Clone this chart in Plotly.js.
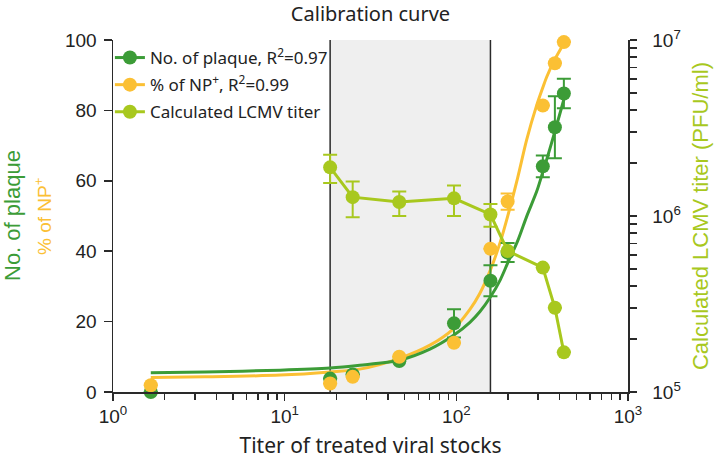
<!DOCTYPE html>
<html>
<head>
<meta charset="utf-8">
<script src="https://cdn.plot.ly/plotly-3.0.1.min.js"></script>
<style>html,body{margin:0;padding:0;background:#fff;}#chart{width:714px;height:465px;}</style>
</head>
<body>
<div id="chart"></div>
<script>
// ---- data ----
const titerX = [1.66, 18.4, 24.9, 46.5, 96.9, 158, 199, 319, 375, 423];
const plaque = [0, 3.8, 5.0, 8.8, 19.5, 31.6, 39.6, 64.1, 75.2, 84.8];
const plaqueErr = [0, 0, 0, 0, 4.0, 4.4, 2.7, 3.1, 8.8, 4.2];
const npPct = [1.9, 2.4, 4.3, 10.0, 14.0, 40.7, 54.1, 81.4, 93.4, 99.4];
const npErr = [0, 0, 0, 0, 0, 0, 2.3, 0, 0, 0];

const lcmvX = [18.4, 24.9, 46.5, 96.9, 158, 199, 319, 375, 423];
const lcmvTiter = [1.89e6, 1.28e6, 1.20e6, 1.26e6, 1.02e6, 6.33e5, 5.09e5, 3.01e5, 1.68e5];
const lcmvErrPlus = [3.4e5, 2.9e5, 1.8e5, 2.3e5, 1.5e5, 0, 0, 0, 0];
const lcmvErrMinus = [3.5e5, 2.95e5, 2.0e5, 2.6e5, 1.5e5, 0, 0, 0, 0];

const fitX = [1.66, 3.43, 9.4, 18.4, 27.4, 46.3, 70.2, 96.9, 120, 137, 158, 180, 199, 228, 257, 294, 319, 336, 375, 423];
const plaqueFit = [5.5, 5.7, 6.2, 6.8, 7.6, 9.0, 12.2, 16.2, 19.8, 22.8, 27.0, 31.8, 36.6, 43.0, 49.9, 57.0, 62.5, 66.0, 74.0, 83.1];
const npFit = [4.1, 4.3, 4.8, 5.7, 6.5, 9.5, 13.3, 18.1, 23.5, 28.0, 34.7, 42.5, 49.9, 61.0, 71.7, 81.5, 86.5, 89.5, 94.5, 99.0];

const shadeRange = [18.4, 158];

const xTickVals = [1, 10, 100, 1000];
const xTickText = ['10<sup>0</sup>', '10<sup>1</sup>', '10<sup>2</sup>', '10<sup>3</sup>'];
const xMinorVals = [2,3,4,5,6,7,8,9,20,30,40,50,60,70,80,90,200,300,400,500,600,700,800,900];
const yTickVals = [0, 20, 40, 60, 80, 100];
const y2TickVals = [1e5, 1e6, 1e7];
const y2TickText = ['10<sup>5</sup>', '10<sup>6</sup>', '10<sup>7</sup>'];
const y2MinorVals = [2e5,3e5,4e5,5e5,6e5,7e5,8e5,9e5,2e6,3e6,4e6,5e6,6e6,7e6,8e6,9e6];

const legendNames = ['No. of plaque, R<sup>2</sup>=0.97', '% of NP<sup>+</sup>, R<sup>2</sup>=0.99', 'Calculated LCMV titer'];

// ---- styling ----
const GREEN = '#3c9c37';
const ORANGE = '#fbc034';
const LIME = '#a8c81e';
const AX = '#2a2a2a';
const ARIAL = 'Liberation Sans, Arial, sans-serif';
const tickFont = {family: ARIAL, size: 19, color: '#222'};
const textFont = 'Noto Sans, sans-serif';

const traces = [
  // legend-only entries
  {x: [null], y: [null], type: 'scatter', mode: 'lines+markers', name: legendNames[0], legendgroup: 'a',
   line: {color: GREEN, width: 3}, marker: {color: GREEN, size: 14}},
  {x: [null], y: [null], type: 'scatter', mode: 'lines+markers', name: legendNames[1], legendgroup: 'b',
   line: {color: ORANGE, width: 3}, marker: {color: ORANGE, size: 14}},
  // fit curves
  {x: fitX, y: npFit, type: 'scatter', mode: 'lines', showlegend: false, cliponaxis: false,
   line: {color: ORANGE, width: 3, shape: 'spline', smoothing: 0.8}},
  {x: fitX, y: plaqueFit, type: 'scatter', mode: 'lines', showlegend: false, cliponaxis: false,
   line: {color: GREEN, width: 3, shape: 'spline', smoothing: 0.8}},
  // data points
  {x: titerX, y: plaque, type: 'scatter', mode: 'markers', showlegend: false, cliponaxis: false,
   marker: {color: GREEN, size: 14},
   error_y: {type: 'data', array: plaqueErr, visible: true, color: GREEN, thickness: 2, width: 7}},
  {x: titerX, y: npPct, type: 'scatter', mode: 'markers', showlegend: false, cliponaxis: false,
   marker: {color: ORANGE, size: 14},
   error_y: {type: 'data', array: npErr, visible: true, color: ORANGE, thickness: 2, width: 7}},
  {x: lcmvX, y: lcmvTiter, yaxis: 'y2', type: 'scatter', mode: 'lines+markers', name: legendNames[2], legendgroup: 'c',
   cliponaxis: false,
   line: {color: LIME, width: 3}, marker: {color: LIME, size: 14},
   error_y: {type: 'data', array: lcmvErrPlus, arrayminus: lcmvErrMinus, visible: true, color: LIME, thickness: 2, width: 7}}
];

const layout = {
  width: 714, height: 465,
  margin: {l: 113, r: 86, t: 40, b: 73},
  paper_bgcolor: '#fff', plot_bgcolor: '#fff',
  showlegend: true,
  title: {text: 'Calibration curve', font: {family: textFont, size: 20, color: '#222'},
          x: 0.5, xref: 'paper', xanchor: 'center', y: 0.971, yref: 'container', yanchor: 'middle'},
  xaxis: {
    type: 'log', range: [0, 3], showgrid: false, zeroline: false,
    showline: true, linecolor: AX, linewidth: 1.5,
    ticks: 'outside', ticklen: 7, tickwidth: 1.5, tickcolor: AX,
    tickmode: 'array', tickvals: xTickVals, ticktext: xTickText, tickfont: tickFont,
    minor: {tickmode: 'array', tickvals: xMinorVals, ticks: 'outside', ticklen: 6, tickwidth: 1.5, tickcolor: AX, showgrid: false},
    title: {text: 'Titer of treated viral stocks', font: {family: textFont, size: 21, color: '#222'}, standoff: 12}
  },
  yaxis: {
    range: [0, 100], showgrid: false, zeroline: false,
    showline: true, linecolor: AX, linewidth: 1.5,
    ticks: 'outside', ticklen: 8, tickwidth: 1.5, tickcolor: AX, ticklabelstandoff: 3,
    tickmode: 'array', tickvals: yTickVals, tickfont: tickFont
  },
  yaxis2: {
    type: 'log', range: [5, 7], overlaying: 'y', side: 'right', showgrid: false, zeroline: false,
    showline: true, linecolor: AX, linewidth: 1.5,
    ticks: 'outside', ticklen: 7, tickwidth: 1.5, tickcolor: AX, ticklabelstandoff: 12,
    tickmode: 'array', tickvals: y2TickVals, ticktext: y2TickText, tickfont: tickFont,
    minor: {tickmode: 'array', tickvals: y2MinorVals, ticks: 'outside', ticklen: 7, tickwidth: 1.5, tickcolor: AX, showgrid: false},
    title: {text: 'Calculated LCMV titer (PFU/ml)', font: {family: ARIAL, size: 22, color: LIME}, standoff: 13}
  },
  legend: {
    x: -0.006, y: 1.0, xanchor: 'left', yanchor: 'top', xref: 'paper', yref: 'paper',
    bgcolor: 'rgba(0,0,0,0)', borderwidth: 0,
    font: {family: textFont, size: 17, color: '#222'},
    traceorder: 'grouped', tracegroupgap: 2
  },
  shapes: [
    {type: 'rect', xref: 'x', yref: 'paper', x0: shadeRange[0], x1: shadeRange[1], y0: 0, y1: 1,
     fillcolor: '#efefef', line: {width: 0}, layer: 'below'},
    {type: 'line', xref: 'x', yref: 'paper', x0: shadeRange[0], x1: shadeRange[0], y0: 0, y1: 1,
     line: {color: AX, width: 1.5}, layer: 'below'},
    {type: 'line', xref: 'x', yref: 'paper', x0: shadeRange[1], x1: shadeRange[1], y0: 0, y1: 1,
     line: {color: AX, width: 1.5}, layer: 'below'}
  ],
  annotations: [
    {text: 'No. of plaque', xref: 'paper', yref: 'paper', x: 0, y: 0.5, xanchor: 'center', yanchor: 'middle',
     xshift: -101, textangle: -90, showarrow: false,
     font: {family: ARIAL, size: 22, color: GREEN}},
    {text: '% of NP<sup>+</sup>', xref: 'paper', yref: 'paper', x: 0, y: 0.5, xanchor: 'center', yanchor: 'middle',
     xshift: -70, textangle: -90, showarrow: false,
     font: {family: ARIAL, size: 19, color: ORANGE}}
  ]
};

Plotly.newPlot('chart', traces, layout, {displayModeBar: false, staticPlot: true});
</script>
</body>
</html>
